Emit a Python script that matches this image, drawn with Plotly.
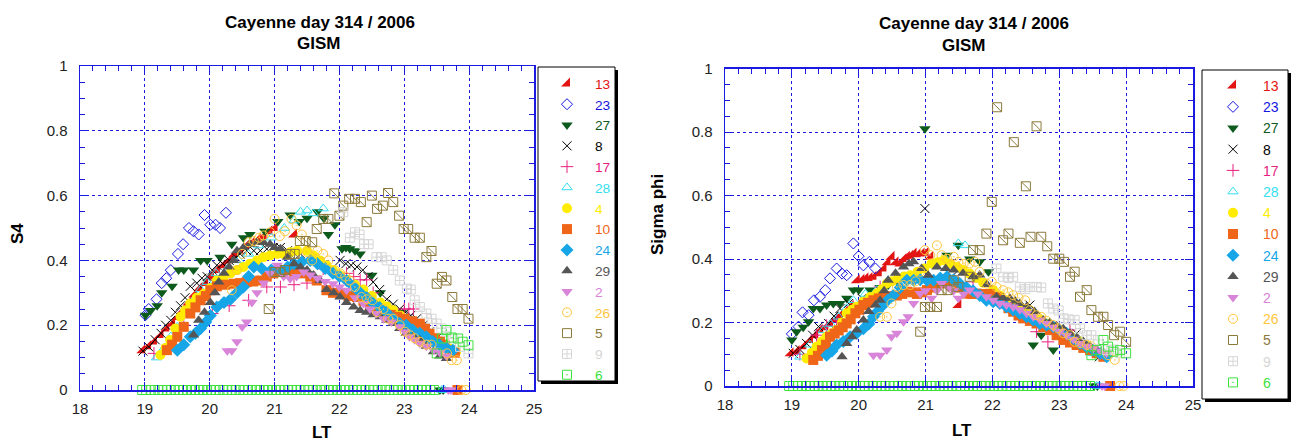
import plotly.graph_objects as go

W, H = 1293, 443

# ---------------- DATA (LT hour, value) ----------------
PRNS = ["13", "23", "27", "8", "17", "28", "4", "10", "24", "29", "2", "26", "5", "9", "6"]

# PRN 6 sampled at zero along the bottom of both panels
PRN6_ZERO_LT = [18.96, 19.02, 19.09, 19.15, 19.21, 19.27, 19.34, 19.40, 19.46, 19.52,
                19.59, 19.65, 19.71, 19.77, 19.84, 19.90, 19.96, 20.02, 20.09, 20.15,
                20.21, 20.27, 20.34, 20.40, 20.46, 20.52, 20.59, 20.65, 20.71, 20.77,
                20.84, 20.90, 20.96, 21.02, 21.09, 21.15, 21.21, 21.27, 21.34, 21.40,
                21.46, 21.52, 21.59, 21.65, 21.71, 21.77, 21.84, 21.90, 21.96, 22.02,
                22.09, 22.15, 22.21, 22.27, 22.34, 22.40, 22.46, 22.52, 22.59, 22.65,
                22.71, 22.77, 22.84, 22.90, 22.96, 23.02, 23.09, 23.15, 23.21, 23.27,
                23.34, 23.40, 23.46]
PRN6_ZERO_VAL = [0, 0, 0, 0, 0, 0, 0, 0, 0, 0,
                 0, 0, 0, 0, 0, 0, 0, 0, 0, 0,
                 0, 0, 0, 0, 0, 0, 0, 0, 0, 0,
                 0, 0, 0, 0, 0, 0, 0, 0, 0, 0,
                 0, 0, 0, 0, 0, 0, 0, 0, 0, 0,
                 0, 0, 0, 0, 0, 0, 0, 0, 0, 0,
                 0, 0, 0, 0, 0, 0, 0, 0, 0, 0,
                 0, 0, 0]

# ---- S4 panel ----
S4_13 = [(18.96, 0.123), (19.05, 0.135), (19.14, 0.15), (19.24, 0.17), (19.33, 0.19), (19.42, 0.205),
         (19.50, 0.225), (19.58, 0.245), (19.67, 0.27), (19.76, 0.295), (19.84, 0.315), (19.93, 0.33),
         (20.02, 0.35), (20.11, 0.37), (20.20, 0.385), (20.29, 0.40), (20.38, 0.42), (20.47, 0.43),
         (20.56, 0.445), (20.65, 0.455), (20.74, 0.465), (20.83, 0.475), (20.92, 0.49), (21.00, 0.50),
         (21.30, 0.48)]
S4_23 = [(19.01, 0.231), (19.06, 0.25), (19.18, 0.28), (19.26, 0.33), (19.33, 0.345), (19.40, 0.37),
         (19.51, 0.42), (19.59, 0.45), (19.68, 0.50), (19.75, 0.49), (19.83, 0.48), (19.92, 0.54),
         (20.01, 0.51), (20.09, 0.51), (20.16, 0.50), (20.25, 0.547)]
S4_27 = [(19.01, 0.231), (19.09, 0.245), (19.19, 0.26), (19.26, 0.30), (19.42, 0.32), (19.52, 0.37),
         (19.60, 0.37), (19.75, 0.37), (19.86, 0.40), (19.96, 0.40), (20.16, 0.41), (20.34, 0.45),
         (20.52, 0.47), (20.62, 0.48), (20.85, 0.49), (21.05, 0.52), (21.24, 0.54), (21.38, 0.52),
         (21.50, 0.53), (21.66, 0.55), (21.76, 0.53), (21.83, 0.48), (21.93, 0.51), (22.04, 0.436),
         (22.10, 0.44), (22.16, 0.436), (22.24, 0.43), (22.32, 0.42), (22.50, 0.354), (22.63, 0.30),
         (22.95, 0.24), (23.55, 0.0), (23.60, 0.0)]
S4_8 = [(18.97, 0.12), (19.06, 0.133), (19.16, 0.155), (19.25, 0.175), (19.32, 0.20), (19.40, 0.215),
        (19.47, 0.24), (19.55, 0.26), (19.62, 0.285), (19.70, 0.32), (19.80, 0.33), (19.88, 0.345),
        (19.96, 0.35), (20.04, 0.37), (20.11, 0.385), (20.20, 0.39), (20.30, 0.40), (20.40, 0.41),
        (20.47, 0.42), (20.57, 0.43), (20.68, 0.43), (20.78, 0.43), (20.88, 0.435), (20.98, 0.44),
        (21.09, 0.44), (21.20, 0.43), (21.40, 0.42), (22.01, 0.40), (22.10, 0.39), (22.18, 0.385),
        (22.27, 0.38), (22.36, 0.37), (22.44, 0.35), (22.52, 0.333), (22.62, 0.31), (22.73, 0.28),
        (22.83, 0.265), (22.93, 0.25), (23.02, 0.24), (23.10, 0.23), (23.19, 0.22), (23.29, 0.20),
        (23.39, 0.18), (23.50, 0.16)]
S4_17 = [(19.14, 0.113), (19.60, 0.20), (20.04, 0.236), (20.30, 0.26), (20.60, 0.277), (20.88, 0.318),
         (21.09, 0.318), (21.30, 0.325), (21.50, 0.33), (21.75, 0.374), (22.11, 0.36), (22.22, 0.35),
         (22.32, 0.34), (22.42, 0.34), (22.52, 0.30), (23.00, 0.25), (23.07, 0.25), (23.14, 0.25)]
S4_28 = [(19.18, 0.10), (19.30, 0.13), (19.40, 0.165), (19.50, 0.195), (19.62, 0.24), (19.75, 0.277),
         (19.86, 0.31), (19.96, 0.333), (20.10, 0.36), (20.27, 0.374), (20.45, 0.40), (20.60, 0.42),
         (20.75, 0.446), (20.95, 0.47), (21.15, 0.50), (21.30, 0.523), (21.40, 0.55), (21.50, 0.554),
         (21.60, 0.545), (21.75, 0.56), (23.58, 0.0), (23.62, 0.0)]
S4_4 = [(19.24, 0.108), (19.32, 0.13), (19.39, 0.154), (19.47, 0.19), (19.55, 0.226), (19.62, 0.245),
        (19.70, 0.267), (19.80, 0.285), (19.91, 0.297), (20.01, 0.315), (20.11, 0.338), (20.21, 0.345),
        (20.32, 0.36), (20.42, 0.37), (20.52, 0.38), (20.62, 0.39), (20.73, 0.40), (20.83, 0.41),
        (20.93, 0.415), (21.04, 0.42), (21.14, 0.42), (21.24, 0.425), (21.35, 0.43), (21.50, 0.43),
        (21.60, 0.415), (21.70, 0.40), (21.80, 0.385), (21.90, 0.37), (22.00, 0.355), (22.11, 0.34),
        (22.24, 0.325), (22.37, 0.31), (22.50, 0.29), (22.63, 0.27), (22.73, 0.258), (22.83, 0.246),
        (22.94, 0.23), (23.04, 0.215), (23.16, 0.195), (23.29, 0.174), (23.42, 0.16), (23.55, 0.144),
        (23.68, 0.13), (23.80, 0.118)]
S4_10 = [(19.34, 0.123), (19.42, 0.14), (19.50, 0.164), (19.60, 0.195), (19.70, 0.236), (19.78, 0.255),
         (19.86, 0.277), (19.94, 0.29), (20.01, 0.308), (20.11, 0.32), (20.24, 0.325), (20.37, 0.328),
         (20.47, 0.33), (20.57, 0.333), (20.67, 0.335), (20.78, 0.338), (20.88, 0.35), (20.98, 0.36),
         (21.09, 0.365), (21.19, 0.37), (21.30, 0.365), (21.42, 0.36), (21.55, 0.35), (21.65, 0.338),
         (21.80, 0.308), (21.90, 0.30), (22.01, 0.297), (22.14, 0.29), (22.27, 0.287), (22.37, 0.275),
         (22.47, 0.26), (22.58, 0.25), (22.68, 0.24), (22.79, 0.232), (22.89, 0.226), (23.00, 0.22),
         (23.12, 0.212), (23.24, 0.205), (23.32, 0.19), (23.39, 0.174), (23.47, 0.16), (23.55, 0.15),
         (23.62, 0.14), (23.70, 0.123), (23.78, 0.115), (23.82, 0.0)]
S4_24 = [(19.50, 0.123), (19.60, 0.14), (19.70, 0.164), (19.78, 0.175), (19.86, 0.19), (19.94, 0.21),
         (20.01, 0.23), (20.11, 0.256), (20.22, 0.27), (20.32, 0.28), (20.42, 0.30), (20.52, 0.318),
         (20.60, 0.35), (20.68, 0.38), (20.80, 0.375), (20.95, 0.37), (21.09, 0.37), (21.20, 0.38),
         (21.30, 0.39), (21.42, 0.395), (21.55, 0.40), (21.66, 0.39), (21.78, 0.375), (21.90, 0.36),
         (22.00, 0.35), (22.11, 0.338), (22.21, 0.32), (22.32, 0.30), (22.42, 0.285), (22.52, 0.267),
         (22.62, 0.255), (22.72, 0.24), (22.83, 0.22), (22.93, 0.205), (23.03, 0.20), (23.13, 0.185),
         (23.24, 0.175), (23.34, 0.164), (23.44, 0.15), (23.54, 0.14), (23.65, 0.13), (23.75, 0.123)]
S4_29 = [(19.75, 0.17), (19.83, 0.215), (19.92, 0.24), (20.01, 0.27), (20.08, 0.30), (20.14, 0.333),
         (20.22, 0.36), (20.30, 0.38), (20.37, 0.40), (20.42, 0.43), (20.52, 0.44), (20.62, 0.45),
         (20.73, 0.456), (20.83, 0.455), (20.93, 0.45), (21.00, 0.44), (21.09, 0.436), (21.20, 0.41),
         (21.30, 0.39), (21.40, 0.38), (21.50, 0.37), (21.60, 0.355), (21.70, 0.338), (21.80, 0.31),
         (21.91, 0.30), (22.01, 0.287), (22.11, 0.27), (22.22, 0.256), (22.32, 0.245), (22.42, 0.24),
         (22.52, 0.232), (22.63, 0.226), (22.73, 0.215), (22.83, 0.205), (22.93, 0.19), (23.03, 0.175),
         (23.14, 0.165), (23.24, 0.154), (23.34, 0.135), (23.45, 0.118), (23.55, 0.105), (23.65, 0.097)]
S4_2 = [(20.27, 0.121), (20.34, 0.121), (20.42, 0.149), (20.50, 0.195), (20.57, 0.21), (20.65, 0.27),
        (20.73, 0.30), (20.83, 0.33), (20.93, 0.36), (21.04, 0.385), (21.14, 0.35), (21.24, 0.343),
        (21.34, 0.35), (21.45, 0.364), (21.55, 0.355), (21.66, 0.345), (21.78, 0.335), (21.90, 0.328),
        (22.00, 0.318), (22.11, 0.308), (22.24, 0.285), (22.37, 0.267), (22.47, 0.25), (22.57, 0.236),
        (22.68, 0.22), (22.80, 0.21), (22.93, 0.195), (23.01, 0.18), (23.08, 0.164), (23.16, 0.155),
        (23.24, 0.144), (23.34, 0.135), (23.45, 0.123), (23.55, 0.115), (23.65, 0.105), (23.68, 0.0),
        (23.72, 0.0)]
S4_26 = [(20.34, 0.308), (20.42, 0.37), (20.50, 0.42), (20.60, 0.456), (20.68, 0.46), (20.76, 0.47),
         (20.83, 0.477), (20.93, 0.487), (21.00, 0.528), (21.08, 0.475), (21.16, 0.49), (21.26, 0.528),
         (21.34, 0.508), (21.42, 0.48), (21.50, 0.426), (21.58, 0.40), (21.66, 0.43), (21.75, 0.42),
         (21.83, 0.40), (21.93, 0.37), (22.01, 0.36), (22.09, 0.35), (22.16, 0.338), (22.24, 0.318),
         (22.34, 0.287), (22.42, 0.28), (22.51, 0.277), (22.58, 0.24), (22.68, 0.25), (22.75, 0.22),
         (22.83, 0.22), (22.93, 0.20), (23.01, 0.18), (23.09, 0.169), (23.16, 0.16), (23.24, 0.149),
         (23.34, 0.14), (23.42, 0.14), (23.66, 0.113), (23.73, 0.092), (23.81, 0.092), (23.88, 0.0),
         (23.95, 0.0)]
S4_5 = [(20.91, 0.25), (21.00, 0.364), (21.09, 0.364), (21.16, 0.37), (21.24, 0.42), (21.31, 0.42),
        (21.39, 0.46), (21.48, 0.46), (21.58, 0.456), (21.65, 0.497), (21.75, 0.528), (21.83, 0.528),
        (21.92, 0.607), (22.00, 0.538), (22.06, 0.569), (22.15, 0.59), (22.24, 0.59), (22.33, 0.58),
        (22.42, 0.518), (22.50, 0.60), (22.58, 0.559), (22.67, 0.569), (22.75, 0.608), (22.83, 0.58),
        (22.92, 0.538), (22.99, 0.497), (23.06, 0.497), (23.16, 0.47), (23.24, 0.47), (23.34, 0.41),
        (23.42, 0.429), (23.50, 0.328), (23.58, 0.349), (23.65, 0.338), (23.74, 0.287), (23.82, 0.25),
        (23.90, 0.25), (23.99, 0.22)]
S4_9 = [(22.06, 0.549), (22.16, 0.47), (22.24, 0.487), (22.31, 0.48), (22.38, 0.45), (22.45, 0.45),
        (22.57, 0.41), (22.65, 0.41), (22.73, 0.40), (22.83, 0.37), (22.93, 0.338), (23.04, 0.313),
        (23.10, 0.31), (23.16, 0.277), (23.24, 0.256), (23.34, 0.236), (23.42, 0.22), (23.50, 0.205),
        (23.57, 0.19), (23.65, 0.18), (23.75, 0.159), (23.86, 0.133), (23.99, 0.113)]
S4_6 = [(23.50, 0.113), (23.58, 0.159), (23.65, 0.185), (23.73, 0.162), (23.83, 0.159), (23.90, 0.149),
        (23.99, 0.138)]

# ---- Sigma phi panel ----
SP_13 = [(18.98, 0.103), (19.07, 0.11), (19.17, 0.125), (19.27, 0.145), (19.35, 0.16), (19.42, 0.176),
         (19.50, 0.185), (19.57, 0.197), (19.65, 0.21), (19.72, 0.223), (19.80, 0.235), (19.87, 0.25),
         (19.97, 0.333), (20.04, 0.335), (20.10, 0.339), (20.16, 0.34), (20.22, 0.344), (20.30, 0.355),
         (20.37, 0.37), (20.43, 0.39), (20.49, 0.407), (20.55, 0.39), (20.62, 0.386), (20.67, 0.40),
         (20.72, 0.407), (20.77, 0.41), (20.82, 0.417), (20.88, 0.415), (20.94, 0.417), (21.00, 0.42),
         (21.07, 0.407), (21.49, 0.255)]
SP_23 = [(19.00, 0.164), (19.10, 0.187), (19.16, 0.232), (19.25, 0.223), (19.33, 0.27), (19.42, 0.281),
         (19.50, 0.302), (19.57, 0.339), (19.67, 0.37), (19.75, 0.354), (19.82, 0.349), (19.92, 0.449),
         (20.00, 0.409), (20.07, 0.38), (20.16, 0.391), (20.25, 0.37)]
SP_27 = [(19.00, 0.145), (19.07, 0.171), (19.17, 0.185), (19.25, 0.202), (19.32, 0.244), (19.42, 0.244),
         (19.52, 0.255), (19.62, 0.26), (19.72, 0.26), (19.82, 0.276), (19.92, 0.302), (20.00, 0.302),
         (20.17, 0.302), (20.32, 0.31), (20.44, 0.318), (20.57, 0.333), (20.99, 0.81), (21.32, 0.412),
         (21.49, 0.443), (21.66, 0.40), (21.81, 0.391), (21.94, 0.36), (22.61, 0.129), (22.73, 0.16),
         (22.91, 0.113), (23.52, 0.0), (23.57, 0.0)]
SP_8 = [(19.02, 0.103), (19.12, 0.115), (19.22, 0.134), (19.31, 0.16), (19.40, 0.187), (19.55, 0.197),
        (19.63, 0.22), (19.72, 0.244), (19.85, 0.26), (20.05, 0.276), (20.99, 0.559), (21.17, 0.328),
        (21.49, 0.365), (22.56, 0.255), (23.26, 0.166), (23.60, 0.092)]
SP_17 = [(19.12, 0.10), (19.37, 0.16), (19.52, 0.19), (19.67, 0.208), (19.92, 0.25), (20.32, 0.312),
         (20.87, 0.344), (21.71, 0.328), (22.66, 0.171), (22.83, 0.139), (23.16, 0.176), (23.26, 0.14)]
SP_28 = [(19.12, 0.092), (19.27, 0.13), (19.47, 0.176), (19.58, 0.195), (19.70, 0.218), (19.82, 0.245),
         (19.92, 0.27), (20.10, 0.29), (20.27, 0.302), (20.44, 0.333), (20.65, 0.345), (20.87, 0.354),
         (21.10, 0.38), (21.30, 0.40), (21.49, 0.449), (21.59, 0.443), (23.50, 0.103), (23.56, 0.0),
         (23.60, 0.0)]
SP_4 = [(19.22, 0.087), (19.30, 0.105), (19.37, 0.124), (19.45, 0.14), (19.52, 0.155), (19.60, 0.165),
        (19.67, 0.176), (19.75, 0.20), (19.82, 0.229), (19.90, 0.24), (19.97, 0.25), (20.07, 0.265),
        (20.17, 0.28), (20.27, 0.291), (20.35, 0.305), (20.42, 0.323), (20.50, 0.33), (20.59, 0.339),
        (20.68, 0.345), (20.77, 0.349), (20.88, 0.36), (20.98, 0.37), (21.09, 0.386), (21.18, 0.39),
        (21.27, 0.396), (21.37, 0.385), (21.47, 0.375), (21.56, 0.365), (21.66, 0.354), (21.76, 0.34),
        (21.86, 0.325), (22.01, 0.302), (22.11, 0.285), (22.21, 0.27), (22.31, 0.26), (22.41, 0.249),
        (22.51, 0.235), (22.61, 0.218), (22.71, 0.21), (22.81, 0.197), (22.91, 0.186), (23.01, 0.176),
        (23.11, 0.163), (23.21, 0.15), (23.31, 0.14), (23.41, 0.129), (23.51, 0.115), (23.61, 0.103)]
SP_10 = [(19.32, 0.082), (19.39, 0.095), (19.45, 0.113), (19.51, 0.13), (19.57, 0.155), (19.64, 0.165),
         (19.70, 0.175), (19.76, 0.185), (19.82, 0.197), (19.88, 0.21), (19.95, 0.229), (20.01, 0.24),
         (20.07, 0.255), (20.14, 0.262), (20.22, 0.27), (20.30, 0.276), (20.37, 0.281), (20.47, 0.283),
         (20.57, 0.285), (20.65, 0.29), (20.72, 0.297), (20.80, 0.295), (20.87, 0.29), (20.95, 0.295),
         (21.02, 0.302), (21.12, 0.31), (21.22, 0.323), (21.32, 0.325), (21.42, 0.328), (21.51, 0.31),
         (21.61, 0.291), (21.69, 0.29), (21.76, 0.291), (21.86, 0.29), (21.96, 0.29), (22.06, 0.28),
         (22.16, 0.26), (22.24, 0.245), (22.31, 0.234), (22.39, 0.222), (22.46, 0.213), (22.56, 0.205),
         (22.66, 0.197), (22.76, 0.186), (22.86, 0.176), (22.96, 0.16), (23.06, 0.145), (23.16, 0.137),
         (23.26, 0.129), (23.36, 0.12), (23.46, 0.113), (23.56, 0.103), (23.66, 0.092), (23.76, 0.0)]
SP_24 = [(19.52, 0.097), (19.60, 0.11), (19.67, 0.129), (19.77, 0.14), (19.87, 0.155), (19.97, 0.166),
         (20.07, 0.18), (20.15, 0.195), (20.22, 0.218), (20.28, 0.235), (20.34, 0.25), (20.43, 0.27),
         (20.52, 0.286), (20.62, 0.31), (20.72, 0.333), (20.82, 0.333), (20.92, 0.335), (21.02, 0.333),
         (21.12, 0.333), (21.22, 0.34), (21.32, 0.344), (21.42, 0.335), (21.51, 0.323), (21.61, 0.31),
         (21.71, 0.30), (21.81, 0.285), (21.91, 0.27), (22.01, 0.265), (22.11, 0.26), (22.21, 0.25),
         (22.31, 0.239), (22.41, 0.228), (22.51, 0.218), (22.61, 0.208), (22.71, 0.197), (22.81, 0.192),
         (22.91, 0.187), (23.01, 0.176), (23.11, 0.166), (23.21, 0.15), (23.31, 0.134), (23.41, 0.123),
         (23.51, 0.113), (23.61, 0.102), (23.71, 0.092)]
SP_29 = [(19.75, 0.092), (19.82, 0.134), (19.90, 0.155), (19.97, 0.176), (20.07, 0.208), (20.15, 0.235),
         (20.25, 0.255), (20.32, 0.27), (20.38, 0.30), (20.44, 0.333), (20.55, 0.355), (20.67, 0.375),
         (20.75, 0.385), (20.82, 0.391), (20.94, 0.37), (21.04, 0.349), (21.17, 0.375), (21.30, 0.37),
         (21.42, 0.365), (21.56, 0.355), (21.71, 0.344), (21.81, 0.35), (21.92, 0.32), (22.06, 0.281),
         (22.16, 0.278), (22.26, 0.276), (22.34, 0.268), (22.41, 0.26), (22.51, 0.25), (22.63, 0.235),
         (22.76, 0.208), (22.86, 0.20), (22.96, 0.19), (23.06, 0.18), (23.16, 0.166), (23.26, 0.15),
         (23.36, 0.14), (23.46, 0.125), (23.56, 0.113)]
SP_2 = [(20.22, 0.097), (20.32, 0.097), (20.42, 0.113), (20.49, 0.155), (20.57, 0.166), (20.67, 0.202),
        (20.74, 0.218), (20.82, 0.26), (20.92, 0.291), (21.00, 0.30), (21.09, 0.276), (21.17, 0.30),
        (21.24, 0.323), (21.34, 0.31), (21.42, 0.30), (21.49, 0.276), (21.57, 0.29), (21.66, 0.302),
        (21.78, 0.29), (21.91, 0.281), (22.01, 0.27), (22.11, 0.26), (22.21, 0.255), (22.31, 0.249),
        (22.41, 0.24), (22.51, 0.229), (22.61, 0.218), (22.71, 0.208), (22.81, 0.197), (22.91, 0.185),
        (23.01, 0.172), (23.11, 0.16), (23.21, 0.147), (23.31, 0.134), (23.41, 0.125), (23.51, 0.118),
        (23.61, 0.11), (23.71, 0.103), (23.64, 0.0), (23.68, 0.0)]
SP_26 = [(20.32, 0.218), (20.42, 0.218), (20.49, 0.26), (20.57, 0.312), (20.67, 0.318), (20.77, 0.318),
         (20.85, 0.33), (20.92, 0.36), (20.99, 0.428), (21.07, 0.412), (21.17, 0.443), (21.24, 0.412),
         (21.32, 0.401), (21.42, 0.407), (21.49, 0.391), (21.57, 0.385), (21.66, 0.386), (21.74, 0.391),
         (21.81, 0.36), (21.91, 0.323), (21.99, 0.328), (22.06, 0.312), (22.16, 0.302), (22.24, 0.295),
         (22.31, 0.286), (22.39, 0.278), (22.49, 0.27), (22.56, 0.239), (22.66, 0.223), (22.73, 0.218),
         (22.81, 0.205), (22.91, 0.192), (22.98, 0.182), (23.06, 0.166), (23.16, 0.16), (23.23, 0.139),
         (23.31, 0.135), (23.41, 0.129), (23.48, 0.125), (23.73, 0.097), (23.83, 0.082), (23.90, 0.0),
         (23.96, 0.0)]
SP_5 = [(20.92, 0.171), (20.99, 0.249), (21.07, 0.249), (21.17, 0.249), (21.24, 0.302), (21.33, 0.302),
        (21.42, 0.333), (21.49, 0.312), (21.66, 0.344), (21.71, 0.428), (21.81, 0.428), (21.91, 0.48),
        (21.99, 0.58), (22.07, 0.878), (22.16, 0.459), (22.24, 0.48), (22.32, 0.768), (22.41, 0.451),
        (22.50, 0.629), (22.57, 0.47), (22.66, 0.818), (22.73, 0.47), (22.82, 0.44), (22.91, 0.401),
        (23.00, 0.401), (23.07, 0.391), (23.16, 0.344), (23.23, 0.36), (23.31, 0.281), (23.41, 0.302),
        (23.48, 0.239), (23.58, 0.218), (23.66, 0.218), (23.73, 0.192), (23.82, 0.16), (23.91, 0.171),
        (24.00, 0.139)]
SP_9 = [(22.06, 0.37), (22.16, 0.344), (22.24, 0.34), (22.31, 0.344), (22.41, 0.312), (22.49, 0.305),
        (22.56, 0.312), (22.66, 0.312), (22.73, 0.31), (22.83, 0.26), (22.91, 0.244), (22.99, 0.238),
        (23.06, 0.213), (23.14, 0.21), (23.23, 0.208), (23.31, 0.181), (23.41, 0.16), (23.48, 0.16),
        (23.58, 0.145), (23.71, 0.113), (23.81, 0.115), (23.91, 0.103)]
SP_6 = [(23.48, 0.097), (23.56, 0.113), (23.66, 0.145), (23.73, 0.124), (23.81, 0.108), (23.91, 0.113),
        (24.00, 0.103)]

S4_DATA = [S4_13, S4_23, S4_27, S4_8, S4_17, S4_28, S4_4, S4_10, S4_24, S4_29, S4_2, S4_26, S4_5, S4_9, S4_6]
SP_DATA = [SP_13, SP_23, SP_27, SP_8, SP_17, SP_28, SP_4, SP_10, SP_24, SP_29, SP_2, SP_26, SP_5, SP_9, SP_6]

# ---------------- STYLE ----------------
STYLE = {
    "13": ("triangle-se", "#e31414", False),
    "23": ("diamond-open", "#1717e0", True),
    "27": ("triangle-down", "#0d5a1d", False),
    "8": ("x-thin-open", "#000000", True),
    "17": ("cross-thin-open", "#e8207e", True),
    "28": ("triangle-up-open", "#36def0", True),
    "4": ("circle", "#ffec00", False),
    "10": ("square", "#f06618", False),
    "24": ("diamond", "#16a6e8", False),
    "29": ("triangle-up", "#555555", False),
    "2": ("triangle-down", "#d884d8", False),
    "26": ("circle-open-dot", "#ffc63c", True),
    "5": ("square-open", "#8c7a3c", True),
    "9": ("square-cross-open", "#d6d6d6", True),
    "6": ("square-open-dot", "#3de23d", True),
}
BLUE = "#1a1ae0"
FONT = "Arial, Liberation Sans, Helvetica, sans-serif"


def px(x):
    return x / W


def py(y):
    return 1 - y / H


fig = go.Figure()


def add_panel(data, xa, ya, leg):
    for prn, pts in zip(PRNS, data):
        sym, col, is_open = STYLE[prn]
        xs = [p[0] for p in pts]
        ys = [p[1] for p in pts]
        if prn == "6":
            xs = PRN6_ZERO_LT + xs
            ys = PRN6_ZERO_VAL + ys
        size = 10
        if sym == "diamond-open":
            size = 8.5
        if sym in ("x-thin-open", "cross-thin-open", "square-open", "square-cross-open",
                   "square-open-dot", "circle-open-dot", "triangle-up-open"):
            size = 9
        mk = dict(symbol=sym, size=size, color=col,
                  line=dict(color=col, width=1 if is_open else 0))
        fig.add_trace(go.Scatter(
            x=xs, y=ys, mode="markers", marker=mk,
            name='<span style="color:%s">%s</span>' % (col, prn),
            xaxis=xa, yaxis=ya, legend=leg, cliponaxis=False,
            hoverinfo="x+y"))
        if prn == "5":
            fig.add_trace(go.Scatter(
                x=xs, y=ys, mode="markers",
                marker=dict(symbol="line-nw", size=size, color=col, line=dict(color=col, width=1)),
                xaxis=xa, yaxis=ya, showlegend=False, cliponaxis=False, hoverinfo="skip"))


add_panel(S4_DATA, "x", "y", "legend")
add_panel(SP_DATA, "x2", "y2", "legend2")


def xax(domain, anchor):
    return dict(domain=domain, range=[18, 25], tick0=18, dtick=1, ticks="inside", ticklen=8,
                tickcolor=BLUE, tickwidth=1, showline=True, linecolor=BLUE, linewidth=1.5,
                mirror="ticks", showgrid=True, gridcolor=BLUE, gridwidth=1, griddash="3px,3px",
                zeroline=False, anchor=anchor, automargin=False,
                tickfont=dict(family=FONT, size=15, color="#222222"),
                ticklabelstandoff=4,
                minor=dict(dtick=0.2, ticks="inside", ticklen=5, tickcolor=BLUE, showgrid=False))


def yax(domain, anchor):
    return dict(domain=domain, range=[0, 1], tick0=0, dtick=0.2, ticks="inside", ticklen=8,
                tickcolor=BLUE, tickwidth=1, showline=True, linecolor=BLUE, linewidth=1.5,
                mirror="ticks", showgrid=True, gridcolor=BLUE, gridwidth=1, griddash="3px,3px",
                zeroline=False, anchor=anchor, automargin=False,
                tickfont=dict(family=FONT, size=15, color="#222222"),
                ticklabelstandoff=8,
                minor=dict(dtick=0.05, ticks="inside", ticklen=5, tickcolor=BLUE, showgrid=False))


LX = [px(80), px(534)]
LY = [py(390), py(66)]
RX = [px(725), px(1193)]
RY = [py(386), py(68.5)]

# legend boxes (left, top, right, bottom) in px
LBOX = (538, 67, 615, 381)
RBOX = (1202, 70, 1288, 399)

shapes = []
for (x0, y0, x1, y1) in (LBOX, RBOX):
    shapes.append(dict(type="rect", xref="paper", yref="paper",
                       x0=px(x0 + 3), x1=px(x1 + 3), y0=py(y1 + 3), y1=py(y0 + 3),
                       fillcolor="black", line=dict(width=0), layer="above"))
    shapes.append(dict(type="rect", xref="paper", yref="paper",
                       x0=px(x0), x1=px(x1), y0=py(y1), y1=py(y0),
                       fillcolor="white", line=dict(color="black", width=1), layer="above"))

ann = []


def text(x, y, s, size=17, angle=0, bold=True):
    ann.append(dict(xref="paper", yref="paper", x=px(x), y=py(y), text=("<b>%s</b>" % s) if bold else s,
                    showarrow=False, xanchor="center", yanchor="middle", textangle=angle,
                    font=dict(family=FONT, size=size, color="black")))


text(320, 22, "Cayenne day 314 / 2006")
text(318, 44, "GISM")
text(974, 24, "Cayenne day 314 / 2006")
text(963, 45, "GISM")
text(17, 234, "S4", angle=-90)
text(657, 215, "Sigma phi", angle=-90)
text(322, 432, "LT")
text(962, 430, "LT")


def leg(x, y, iw, fs):
    return dict(x=x, y=y, xanchor="left", yanchor="top", bgcolor="rgba(0,0,0,0)", borderwidth=0,
                font=dict(family=FONT, size=fs, color="black"), tracegroupgap=0,
                itemwidth=iw, itemclick=False, itemdoubleclick=False)


fig.update_layout(
    width=W, height=H, margin=dict(l=0, r=0, t=0, b=0, autoexpand=False),
    paper_bgcolor="white", plot_bgcolor="white", hovermode=False,
    xaxis=xax(LX, "y"), yaxis=yax(LY, "x"),
    xaxis2=xax(RX, "y2"), yaxis2=yax(RY, "x2"),
    legend=leg(px(LBOX[0] + 1), py(LBOX[1] + 1), 46, 13.7),
    legend2=leg(px(RBOX[0] + 1), py(RBOX[1]), 50, 14),
    shapes=shapes, annotations=ann,
)

fig.write_html("out.html", config={"displayModeBar": False, "staticPlot": True},
               post_script="document.body.style.margin='0px';document.body.style.overflow='hidden';")
